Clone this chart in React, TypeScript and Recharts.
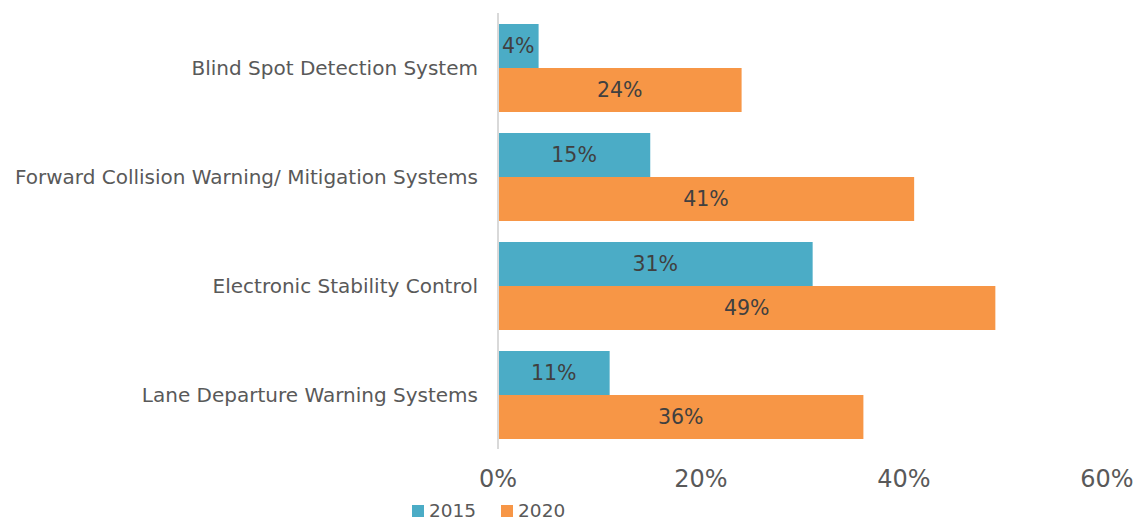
import React from 'react';
import { BarChart, Bar, XAxis, YAxis, Legend, LabelList } from 'recharts';

const categories = [
  'Blind Spot Detection System',
  'Forward Collision Warning/ Mitigation Systems',
  'Electronic Stability Control',
  'Lane Departure Warning Systems',
];
const values2015 = [4, 15, 31, 11];
const values2020 = [24, 41, 49, 36];
const xTicks = [0, 20, 40, 60];

const data = categories.map((name, i) => ({ name, y2015: values2015[i], y2020: values2020[i] }));

const FONT = '"DejaVu Sans", sans-serif';

const renderLegend = (props: any) => {
  const { payload } = props;
  return (
    <div style={{ display: 'flex', fontFamily: FONT, fontSize: 18.5, color: '#595959', alignItems: 'center', height: 22, lineHeight: '22px' }}>
      {payload.map((p: any) => (
        <div key={p.value} style={{ display: 'flex', alignItems: 'center', marginRight: 25 }}>
          <span style={{ width: 12, height: 12, background: p.color, display: 'inline-block', marginRight: 5 }} />
          <span>{p.value}</span>
        </div>
      ))}
    </div>
  );
};

export default function App() {
  return (
    <div style={{ position: 'absolute', left: 0, top: 0, background: '#fff' }}>
      <BarChart
        width={1135}
        height={520}
        data={data}
        layout="vertical"
        margin={{ top: 13, right: 28, bottom: 5, left: 0 }}
        barCategoryGap="10%"
        barGap={0}
      >
        <XAxis
          type="number"
          domain={[0, 60]}
          ticks={xTicks}
          tickFormatter={(v: number) => `${v}%`}
          axisLine={false}
          tickLine={false}
          tickSize={0}
          tickMargin={21}
          height={44}
          tick={{ fill: '#595959', fontSize: 24, fontFamily: FONT }}
          interval={0}
        />
        <YAxis
          type="category"
          dataKey="name"
          width={498}
          axisLine={{ stroke: '#D9D9D9', strokeWidth: 2 }}
          tickLine={false}
          tickSize={0}
          tickMargin={20}
          tick={{ fill: '#595959', fontSize: 20, fontFamily: FONT }}
          interval={0}
        />
        <Legend
          verticalAlign="bottom"
          align="left"
          content={renderLegend}
          wrapperStyle={{ left: 412, top: 500, width: 220 }}
        />
        <Bar dataKey="y2015" name="2015" fill="#4BACC6" isAnimationActive={false}>
          <LabelList dataKey="y2015" position="center" formatter={(v: any) => `${v}%`} fill="#404040" fontSize={20.5} fontFamily={FONT} />
        </Bar>
        <Bar dataKey="y2020" name="2020" fill="#F79646" isAnimationActive={false}>
          <LabelList dataKey="y2020" position="center" formatter={(v: any) => `${v}%`} fill="#404040" fontSize={20.5} fontFamily={FONT} />
        </Bar>
      </BarChart>
    </div>
  );
}
